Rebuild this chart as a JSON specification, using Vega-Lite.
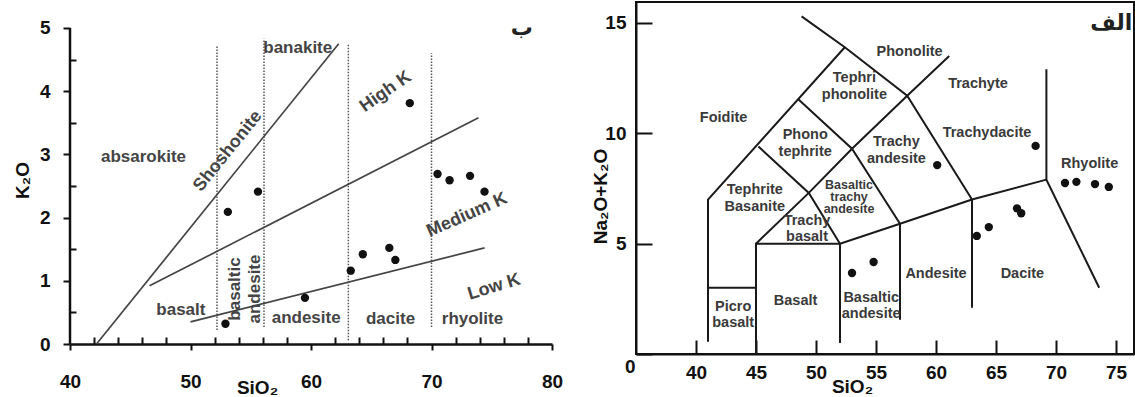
{
  "$schema": "https://vega.github.io/schema/vega-lite/v6.json",
  "background": "white",
  "padding": {"left": 13, "top": 1, "right": 0, "bottom": 0},
  "spacing": 84,
  "bounds": "flush",
  "config": {
    "view": {"stroke": null},
    "axis": {
      "grid": false,
      "labelFont": "Liberation Sans",
      "labelFontWeight": "bold",
      "labelFontSize": 19,
      "labelColor": "#111",
      "domainColor": "#111",
      "tickColor": "#111",
      "titleFont": "Liberation Sans",
      "titleFontWeight": "bold",
      "titleFontSize": 19,
      "titleColor": "#111",
      "titleAlign": "center",
      "titleBaseline": "middle",
      "labelFlush": false,
      "labelOverlap": false
    },
    "text": {"font": "Liberation Sans", "fontWeight": "bold"}
  },
  "hconcat": [
    {
      "width": 482,
      "height": 342,
      "encoding": {
        "x": {
          "field": "sio2", "type": "quantitative",
          "scale": {"domain": [40, 80], "nice": false, "zero": false},
          "axis": {
            "values": [40,42,44,46,48,50,52,54,56,58,60,62,64,66,68,70,72,74,76,78,80],
            "format": "d",
            "labelExpr": "datum.value % 10 === 0 ? datum.label : ''",
            "tickSize": {"condition": {"test": "datum.value % 10 === 0", "value": 6}, "value": -7},
            "tickWidth": 2,
            "domainWidth": 2.5,
            "labelPadding": 22,
            "title": "SiO₂",
            "titleX": 187,
            "titleY": 43
          }
        },
        "y": {
          "field": "k2o", "type": "quantitative",
          "scale": {"domain": [0, 5.41], "nice": false, "zero": false},
          "axis": {
            "values": [0,0.5,1,1.5,2,2.5,3,3.5,4,4.5,5],
            "format": ".0f",
            "labelExpr": "datum.value % 1 === 0 ? datum.label : ''",
            "tickSize": {"condition": {"test": "datum.value % 1 === 0", "value": 7}, "value": -6},
            "tickWidth": 2,
            "domain": false,
            "labelPadding": 13,
            "title": "K₂O",
            "titleX": -48,
            "titleY": 178
          }
        }
      },
      "layer": [
        {
          "data": {"values": [{"sio2": 40, "k2o": 0, "k2o_end": 5}]},
          "mark": {"type": "rule", "color": "#111", "strokeWidth": 2.5},
          "encoding": {"y2": {"field": "k2o_end"}}
        },
        {
          "data": {"values": [
            {"sio2": 52.2, "k2o": 0.22, "k2o_end": 4.72},
            {"sio2": 56.1, "k2o": 0.27, "k2o_end": 4.83},
            {"sio2": 63.1, "k2o": 0.06, "k2o_end": 4.75},
            {"sio2": 70.0, "k2o": 0.27, "k2o_end": 4.6}
          ]},
          "mark": {"type": "rule", "color": "#555", "strokeWidth": 1.5, "strokeDash": [1.5, 1.5]},
          "encoding": {"y2": {"field": "k2o_end"}}
        },
        {
          "data": {"values": [
            {"seg": "a", "sio2": 42.2, "k2o": 0},
            {"seg": "a", "sio2": 62.3, "k2o": 4.75},
            {"seg": "b", "sio2": 46.6, "k2o": 0.92},
            {"seg": "b", "sio2": 73.9, "k2o": 3.58},
            {"seg": "c", "sio2": 50.0, "k2o": 0.35},
            {"seg": "c", "sio2": 74.4, "k2o": 1.52}
          ]},
          "mark": {"type": "line", "color": "#444", "strokeWidth": 1.7},
          "encoding": {"detail": {"field": "seg"}}
        },
        {
          "data": {"values": [
            {"sio2": 55.6, "k2o": 2.41}, {"sio2": 53.1, "k2o": 2.09}, {"sio2": 52.9, "k2o": 0.32},
            {"sio2": 59.5, "k2o": 0.73}, {"sio2": 63.3, "k2o": 1.16}, {"sio2": 64.3, "k2o": 1.42},
            {"sio2": 66.5, "k2o": 1.52}, {"sio2": 67.0, "k2o": 1.33}, {"sio2": 68.2, "k2o": 3.81},
            {"sio2": 70.5, "k2o": 2.69}, {"sio2": 71.5, "k2o": 2.59}, {"sio2": 73.2, "k2o": 2.66},
            {"sio2": 74.4, "k2o": 2.41}
          ]},
          "mark": {"type": "circle", "size": 70, "color": "#111", "opacity": 1}
        },
        {
          "data": {"values": [
            {"sio2": 46.1, "k2o": 2.96, "label": "absarokite"},
            {"sio2": 58.9, "k2o": 4.68, "label": "banakite"},
            {"sio2": 49.2, "k2o": 0.54, "label": "basalt"},
            {"sio2": 59.6, "k2o": 0.41, "label": "andesite"},
            {"sio2": 66.6, "k2o": 0.40, "label": "dacite"},
            {"sio2": 73.4, "k2o": 0.40, "label": "rhyolite"}
          ]},
          "mark": {"type": "text", "fontSize": 17, "color": "#444"},
          "encoding": {"text": {"field": "label"}}
        },
        {
          "data": {"values": [{"sio2": 53.1, "k2o": 3.05, "label": "Shoshonite"}]},
          "mark": {"type": "text", "fontSize": 18, "color": "#444", "angle": -51},
          "encoding": {"text": {"field": "label"}}
        },
        {
          "data": {"values": [{"sio2": 66.2, "k2o": 3.99, "label": "High K"}]},
          "mark": {"type": "text", "fontSize": 18, "color": "#444", "angle": -35},
          "encoding": {"text": {"field": "label"}}
        },
        {
          "data": {"values": [{"sio2": 72.95, "k2o": 2.04, "label": "Medium K"}]},
          "mark": {"type": "text", "fontSize": 18, "color": "#444", "angle": -24},
          "encoding": {"text": {"field": "label"}}
        },
        {
          "data": {"values": [{"sio2": 75.2, "k2o": 0.9, "label": "Low K"}]},
          "mark": {"type": "text", "fontSize": 18, "color": "#444", "angle": -17},
          "encoding": {"text": {"field": "label"}}
        },
        {
          "data": {"values": [{"sio2": 53.7, "k2o": 0.87, "label": "basaltic\nandesite"}]},
          "mark": {"type": "text", "fontSize": 17, "color": "#444", "angle": -90, "lineBreak": "\n", "lineHeight": 20},
          "encoding": {"text": {"field": "label"}}
        },
        {
          "data": {"values": [{"sio2": 77.5, "k2o": 5.0, "label": "ب"}]},
          "mark": {"type": "text", "fontSize": 22, "color": "#222", "font": "DejaVu Sans"},
          "encoding": {"text": {"field": "label"}}
        }
      ]
    },
    {
      "width": 498,
      "height": 352,
      "view": {"stroke": "#111", "strokeWidth": 2},
      "encoding": {
        "x": {
          "field": "sio2", "type": "quantitative",
          "scale": {"domain": [35, 76.5], "nice": false, "zero": false},
          "axis": {
            "values": [40, 45, 50, 55, 60, 65, 70, 75],
            "tickSize": -14,
            "tickWidth": 2,
            "domainWidth": 2,
            "labelPadding": 23,
            "title": "SiO₂",
            "titleX": 216,
            "titleY": 32
          }
        },
        "y": {
          "field": "alk", "type": "quantitative",
          "scale": {"domain": [0, 15.95], "nice": false, "zero": false},
          "axis": {
            "values": [0, 5, 10, 15],
            "tickSize": -16,
            "tickWidth": 2,
            "domainWidth": 2,
            "labelPadding": {"condition": {"test": "datum.value === 0", "value": 17}, "value": 26},
            "labelOffset": {"condition": {"test": "datum.value === 0", "value": 12}, "value": 0},
            "title": "Na₂O+K₂O",
            "titleX": -36,
            "titleY": 194
          }
        }
      },
      "layer": [
        {
          "data": {"values": [
            {"seg": "A", "o": 1, "sio2": 41, "alk": 0.55},
            {"seg": "A", "o": 2, "sio2": 41, "alk": 7},
            {"seg": "A", "o": 3, "sio2": 52.4, "alk": 13.9},
            {"seg": "B", "o": 1, "sio2": 48.8, "alk": 15.3},
            {"seg": "B", "o": 2, "sio2": 52.4, "alk": 13.9},
            {"seg": "B", "o": 3, "sio2": 57.6, "alk": 11.7},
            {"seg": "B", "o": 4, "sio2": 63, "alk": 7},
            {"seg": "C", "o": 1, "sio2": 45, "alk": 5},
            {"seg": "C", "o": 2, "sio2": 49.4, "alk": 7.3},
            {"seg": "C", "o": 3, "sio2": 53, "alk": 9.3},
            {"seg": "C", "o": 4, "sio2": 57.6, "alk": 11.7},
            {"seg": "C", "o": 5, "sio2": 61.1, "alk": 13.5},
            {"seg": "D", "o": 1, "sio2": 45.2, "alk": 9.4},
            {"seg": "D", "o": 2, "sio2": 49.4, "alk": 7.3},
            {"seg": "D", "o": 3, "sio2": 52, "alk": 5},
            {"seg": "E", "o": 1, "sio2": 48.5, "alk": 11.55},
            {"seg": "E", "o": 2, "sio2": 53, "alk": 9.3},
            {"seg": "E", "o": 3, "sio2": 57, "alk": 5.9},
            {"seg": "F", "o": 1, "sio2": 41, "alk": 3},
            {"seg": "F", "o": 2, "sio2": 45, "alk": 3},
            {"seg": "G", "o": 1, "sio2": 45, "alk": 0},
            {"seg": "G", "o": 2, "sio2": 45, "alk": 5},
            {"seg": "G", "o": 3, "sio2": 52, "alk": 5},
            {"seg": "G", "o": 4, "sio2": 57, "alk": 5.9},
            {"seg": "G", "o": 5, "sio2": 63, "alk": 7},
            {"seg": "G", "o": 6, "sio2": 69.2, "alk": 7.9},
            {"seg": "H", "o": 1, "sio2": 52, "alk": 0.5},
            {"seg": "H", "o": 2, "sio2": 52, "alk": 5},
            {"seg": "I", "o": 1, "sio2": 57, "alk": 1.55},
            {"seg": "I", "o": 2, "sio2": 57, "alk": 5.9},
            {"seg": "J", "o": 1, "sio2": 63, "alk": 2.1},
            {"seg": "J", "o": 2, "sio2": 63, "alk": 7},
            {"seg": "K", "o": 1, "sio2": 69.2, "alk": 12.9},
            {"seg": "K", "o": 2, "sio2": 69.2, "alk": 7.9},
            {"seg": "K", "o": 3, "sio2": 73.6, "alk": 3.0}
          ]},
          "mark": {"type": "line", "color": "#1a1a1a", "strokeWidth": 2},
          "encoding": {"detail": {"field": "seg"}, "order": {"field": "o", "type": "quantitative"}}
        },
        {
          "data": {"values": [
            {"sio2": 68.3, "alk": 9.43}, {"sio2": 60.1, "alk": 8.56}, {"sio2": 70.75, "alk": 7.75},
            {"sio2": 71.7, "alk": 7.8}, {"sio2": 73.25, "alk": 7.7}, {"sio2": 74.4, "alk": 7.57},
            {"sio2": 66.75, "alk": 6.6}, {"sio2": 67.1, "alk": 6.38}, {"sio2": 64.4, "alk": 5.75},
            {"sio2": 63.4, "alk": 5.35}, {"sio2": 54.8, "alk": 4.17}, {"sio2": 53.0, "alk": 3.67}
          ]},
          "mark": {"type": "circle", "size": 70, "color": "#111", "opacity": 1}
        },
        {
          "data": {"values": [
            {"sio2": 42.3, "alk": 10.7, "label": "Foidite"},
            {"sio2": 57.8, "alk": 13.68, "label": "Phonolite"},
            {"sio2": 53.2, "alk": 12.5, "label": "Tephri\nphonolite"},
            {"sio2": 49.1, "alk": 9.92, "label": "Phono\ntephrite"},
            {"sio2": 63.5, "alk": 12.23, "label": "Trachyte"},
            {"sio2": 64.25, "alk": 10.0, "label": "Trachydacite"},
            {"sio2": 56.7, "alk": 9.6, "label": "Trachy\nandesite"},
            {"sio2": 72.8, "alk": 8.6, "label": "Rhyolite"},
            {"sio2": 44.9, "alk": 7.43, "label": "Tephrite\nBasanite"},
            {"sio2": 49.25, "alk": 6.03, "label": "Trachy\nbasalt"},
            {"sio2": 43.1, "alk": 2.13, "label": "Picro\nbasalt"},
            {"sio2": 48.3, "alk": 2.4, "label": "Basalt"},
            {"sio2": 54.6, "alk": 2.54, "label": "Basaltic\nandesite"},
            {"sio2": 60.0, "alk": 3.62, "label": "Andesite"},
            {"sio2": 67.2, "alk": 3.62, "label": "Dacite"}
          ]},
          "mark": {"type": "text", "fontSize": 14.5, "color": "#3a3a3a", "lineBreak": "\n", "lineHeight": 16.5},
          "encoding": {"text": {"field": "label"}}
        },
        {
          "data": {"values": [{"sio2": 52.75, "alk": 7.66, "label": "Basaltic\ntrachy\nandesite"}]},
          "mark": {"type": "text", "fontSize": 12.5, "color": "#3a3a3a", "lineBreak": "\n", "lineHeight": 12},
          "encoding": {"text": {"field": "label"}}
        },
        {
          "data": {"values": [{"sio2": 74.6, "alk": 15.0, "label": "الف"}]},
          "mark": {"type": "text", "fontSize": 22, "color": "#222", "font": "DejaVu Sans"},
          "encoding": {"text": {"field": "label"}}
        }
      ]
    }
  ]
}
